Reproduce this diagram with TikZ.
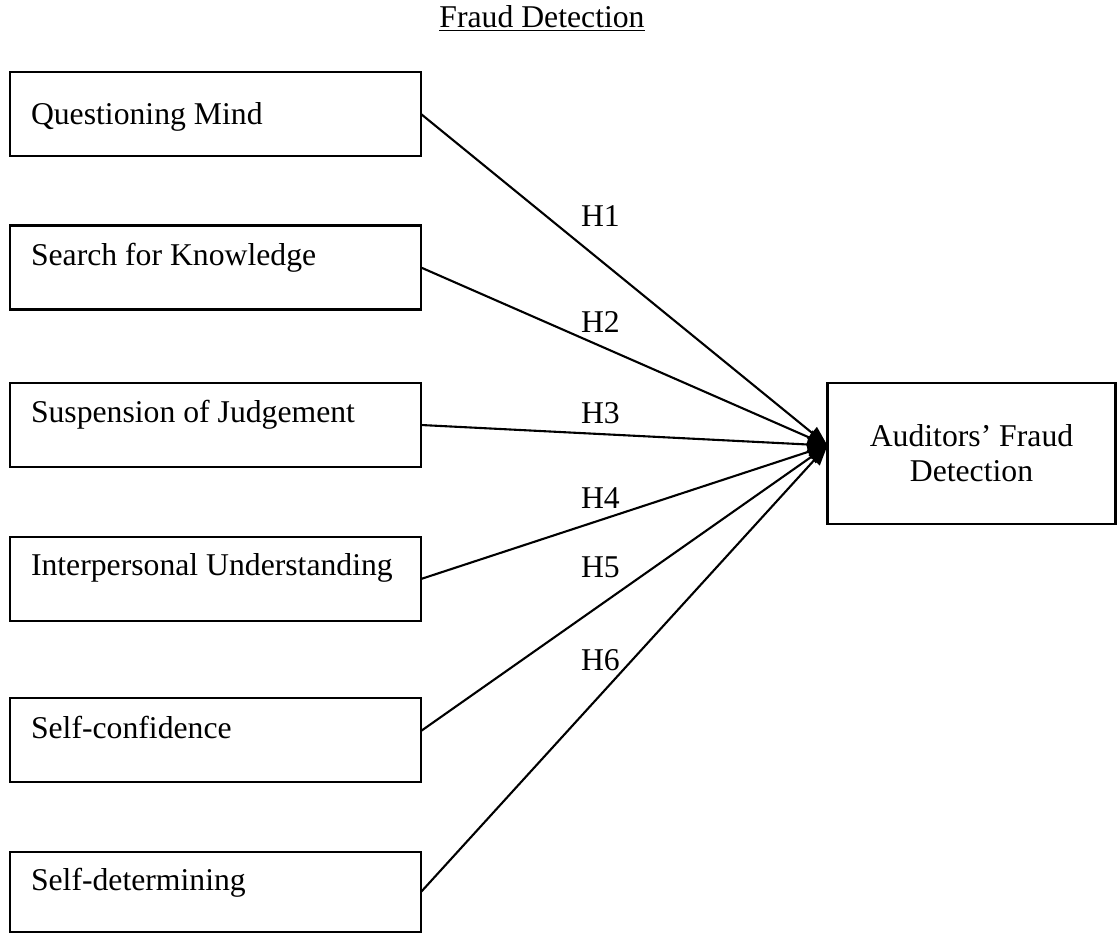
\documentclass[tikz,border=0pt]{standalone}
\usepackage{fontspec}
\setmainfont{Liberation Serif}
\usetikzlibrary{arrows.meta,calc}
\begin{document}
\begin{tikzpicture}[x=1pt,y=-1pt,
  box/.style={draw,line width=2.4pt,rectangle,inner sep=0pt,outer sep=0pt,minimum width=411pt,minimum height=84pt},
  bigbox/.style={draw,line width=2.4pt,rectangle,inner sep=0pt,outer sep=0pt,minimum width=288pt,minimum height=141pt,align=center,font=\fontsize{31.7}{35}\selectfont},
  txt/.style={inner sep=0pt,outer sep=0pt,font=\fontsize{31.7}{36}\selectfont},
  conn/.style={line width=2.1pt,-{Triangle[length=20pt,width=15pt]}}]
\useasboundingbox (0,0) rectangle (1117,933);
% title
\node[txt,anchor=base] (title) at (542,28) {\underline{Fraud Detection}};
% left boxes
\node[box] (b1) at (215.5,114) {};
\node[box] (b2) at (215.5,267.5) {};
\node[box] (b3) at (215.5,425) {};
\node[box] (b4) at (215.5,579) {};
\node[box] (b5) at (215.5,740) {};
\node[box,minimum height=80pt] (b6) at (215.5,892) {};
\node[txt,anchor=base west] (t1) at ($(b1.north west)+(21,53)$) {Questioning Mind};
\node[txt,anchor=base west] (t2) at ($(b2.north west)+(21,40)$) {Search for Knowledge};
\node[txt,anchor=base west] (t3) at ($(b3.north west)+(21,39)$) {Suspension of Judgement};
\node[txt,anchor=base west] (t4) at ($(b4.north west)+(21,38)$) {Interpersonal Understanding};
\node[txt,anchor=base west] (t5) at ($(b5.north west)+(21,40)$) {Self-confidence};
\node[txt,anchor=base west] (t6) at ($(b6.north west)+(21,38)$) {Self-determining};
% right box
\node[bigbox] (ad) at (971.5,453.5) {Auditors’ Fraud\\Detection};
\coordinate (tip) at ([yshift=8pt]ad.west);
% connectors
\draw[conn] (b1.east) -- (tip);
\draw[conn] (b2.east) -- (tip);
\draw[conn] (b3.east) -- (tip);
\draw[conn] (b4.east) -- (tip);
\draw[conn] ([yshift=9pt]b5.east) -- (tip);
\draw[conn] (b6.east) -- (tip);
% hypothesis labels
\node[txt,anchor=base west] (h1) at (581,227) {H1};
\node[txt,anchor=base west] (h2) at (581,333) {H2};
\node[txt,anchor=base west] (h3) at (581,423) {H3};
\node[txt,anchor=base west] (h4) at (581,508) {H4};
\node[txt,anchor=base west] (h5) at (581,577) {H5};
\node[txt,anchor=base west] (h6) at (581,670) {H6};
\end{tikzpicture}
\end{document}
